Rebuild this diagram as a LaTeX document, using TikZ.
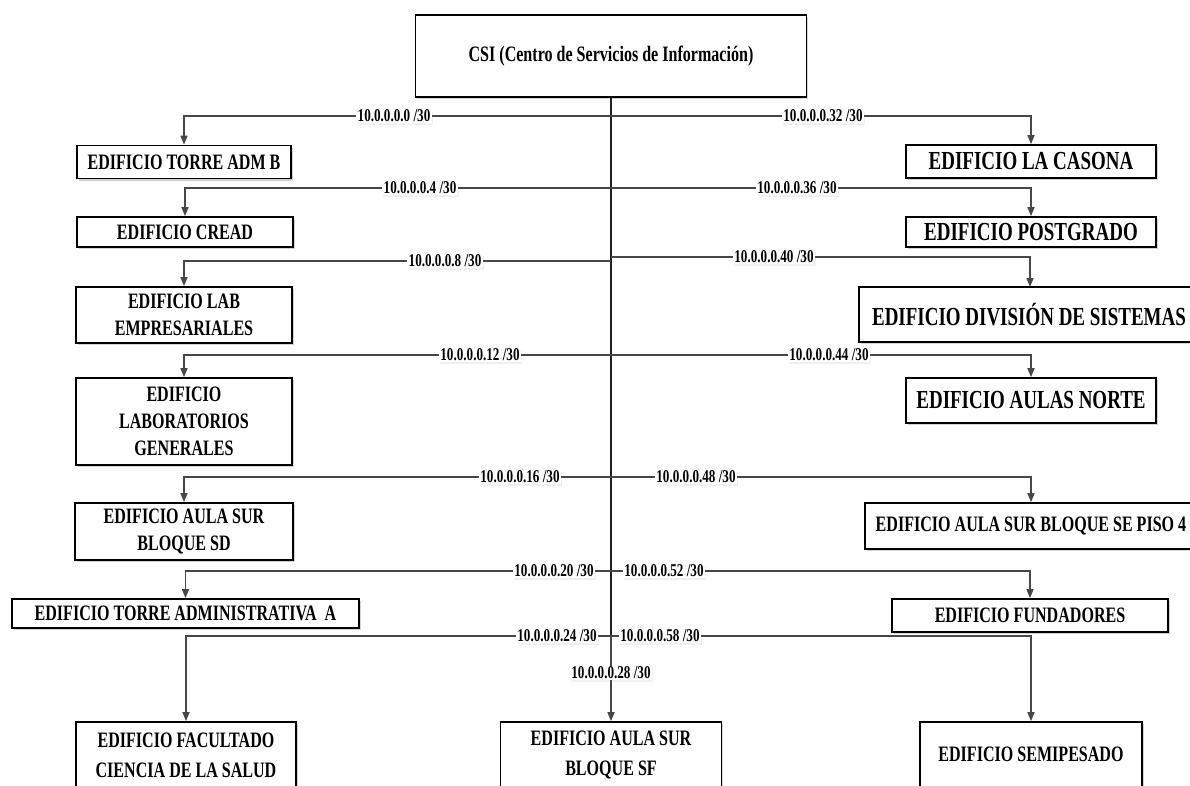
\documentclass[tikz,border=0pt]{standalone}
\usepackage{fontspec}
\setmainfont{Liberation Serif}[FakeStretch=0.73]
\usetikzlibrary{arrows.meta,shadows}

\tikzset{
  box/.style={draw=black, line width=1.7pt, fill=white, align=center,
    inner sep=0pt, font=\bfseries\fontsize{22}{27}\selectfont,
    drop shadow={opacity=0.35, shadow xshift=1.5pt, shadow yshift=-2pt}},
  bigbox/.style={box, font=\bfseries\fontsize{26}{30}\selectfont},
  conn/.style={draw=black!72, line width=1.5pt,
    -{Triangle[width=7pt,length=9pt]}},
  trunk/.style={draw=black!88, line width=2.4pt},
  lbl/.style={fill=white, inner xsep=1.5pt, inner ysep=1pt,
    font=\bfseries\fontsize{18}{20}\selectfont,
    drop shadow={opacity=0.12, shadow xshift=1pt, shadow yshift=-2pt}}
}

\begin{document}
\begin{tikzpicture}[x=1pt, y=-1pt]
\useasboundingbox (0,0) rectangle (1190,785);
\clip (0,0) rectangle (1190,785);

% central switch
\node[box, minimum width=391pt, minimum height=82pt] (csi) at (611,56)
  {CSI (Centro de Servicios de Información)};

% left column
\node[box, minimum width=214pt, minimum height=33pt] (adb) at (184,162) {EDIFICIO TORRE ADM B};
\node[box, minimum width=216pt, minimum height=30pt] (cread) at (185,232) {EDIFICIO CREAD};
\node[box, minimum width=216pt, minimum height=56pt] (labe) at (184,315) {EDIFICIO LAB\\EMPRESARIALES};
\node[box, minimum width=216pt, minimum height=87pt] (labg) at (184,421.5) {EDIFICIO\\LABORATORIOS\\GENERALES};
\node[box, minimum width=218pt, minimum height=57pt] (sd) at (184,531.5) {EDIFICIO AULA SUR\\BLOQUE SD};
\node[box, minimum width=347pt, minimum height=29pt] (tadm) at (185.5,613.5) {EDIFICIO TORRE ADMINISTRATIVA\ \ A};
\node[box, minimum width=220pt, minimum height=86pt] (salud) at (186,765) {};
\node[font=\bfseries\fontsize{22}{30}\selectfont, align=center] (saludt) at (186,755) {EDIFICIO FACULTADO\\CIENCIA DE LA SALUD};

% right column
\node[bigbox, minimum width=250pt, minimum height=33pt] (casona) at (1031,161.5) {EDIFICIO LA CASONA};
\node[bigbox, minimum width=250pt, minimum height=30pt] (postg) at (1031,232) {EDIFICIO POSTGRADO};
\node[bigbox, minimum width=340pt, minimum height=55pt] (dsis) at (1029,314.5) {EDIFICIO DIVISIÓN DE SISTEMAS};
\node[bigbox, minimum width=250pt, minimum height=45pt] (norte) at (1031,400.5) {EDIFICIO AULAS NORTE};
\node[box, minimum width=332pt, minimum height=46pt] (se) at (1031,526) {EDIFICIO AULA SUR BLOQUE SE PISO 4};
\node[box, minimum width=276pt, minimum height=33pt] (fund) at (1030,615.5) {EDIFICIO FUNDADORES};
\node[box, minimum width=222pt, minimum height=86pt] (semi) at (1031,765) {};
\node[font=\bfseries\fontsize{22}{27}\selectfont] (semit) at (1031,754) {EDIFICIO SEMIPESADO};

% bottom centre
\node[box, minimum width=221pt, minimum height=86pt] (sf) at (611,765) {};
\node[font=\bfseries\fontsize{22}{30}\selectfont, align=center] (sft) at (611,755) {EDIFICIO AULA SUR\\BLOQUE SF};

% junctions on the backbone
\coordinate (j1) at (611,116);
\coordinate (j2) at (611,188);
\coordinate (j3l) at (611,261);
\coordinate (j3r) at (611,257);
\coordinate (j4) at (611,355);
\coordinate (j5) at (611,477);
\coordinate (j6) at (611,571);
\coordinate (j7) at (611,636);
\coordinate (dsisin) at (1030,287);

% backbone
\draw[trunk] (csi.south) -- (j7);
\draw[conn] (j7) -- (sf.north);

% branches to the left
\draw[conn] (j1) -| (adb.north);
\draw[conn] (j2) -| (cread.north);
\draw[conn] (j3l) -| (labe.north);
\draw[conn] (j4) -| (labg.north);
\draw[conn] (j5) -| (sd.north);
\draw[conn] (j6) -| (tadm.north);
\draw[conn] (j7) -| (salud.north);

% branches to the right
\draw[conn] (j1) -| (casona.north);
\draw[conn] (j2) -| (postg.north);
\draw[conn] (j3r) -| (dsisin);
\draw[conn] (j4) -| (norte.north);
\draw[conn] (j5) -| (se.north);
\draw[conn] (j6) -| (fund.north);
\draw[conn] (j7) -| (semi.north);

% subnet labels
\node[lbl] (l0) at (394,116) {10.0.0.0.0 /30};
\node[lbl] (l4) at (420,188) {10.0.0.0.4 /30};
\node[lbl] (l8) at (445,261) {10.0.0.0.8 /30};
\node[lbl] (l12) at (480,355) {10.0.0.0.12 /30};
\node[lbl] (l16) at (520,477) {10.0.0.0.16 /30};
\node[lbl] (l20) at (554,571) {10.0.0.0.20 /30};
\node[lbl] (l24) at (557,636) {10.0.0.0.24 /30};
\node[lbl] (l28) at (611,673) {10.0.0.0.28 /30};
\node[lbl] (l32) at (823,116) {10.0.0.0.32 /30};
\node[lbl] (l36) at (797,188) {10.0.0.0.36 /30};
\node[lbl] (l40) at (774,257) {10.0.0.0.40 /30};
\node[lbl] (l44) at (829,355) {10.0.0.0.44 /30};
\node[lbl] (l48) at (696,477) {10.0.0.0.48 /30};
\node[lbl] (l52) at (664,571) {10.0.0.0.52 /30};
\node[lbl] (l58) at (660,636) {10.0.0.0.58 /30};
\end{tikzpicture}
\end{document}
